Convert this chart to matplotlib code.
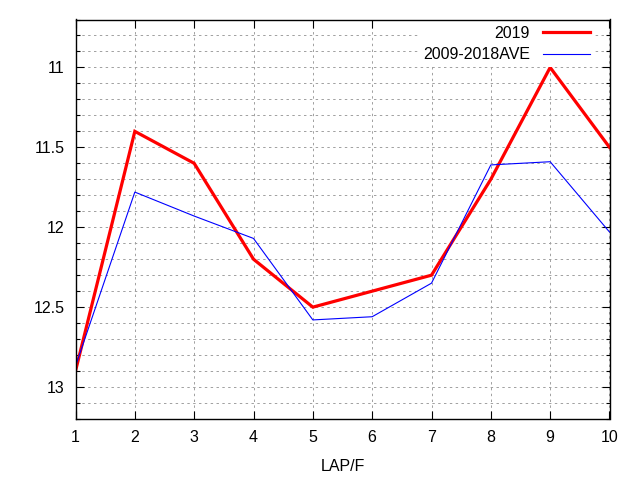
import matplotlib
matplotlib.use("Agg")
import matplotlib.pyplot as plt
from matplotlib.ticker import MultipleLocator

laps = [1, 2, 3, 4, 5, 6, 7, 8, 9, 10]
y2019 = [12.9, 11.4, 11.6, 12.2, 12.5, 12.4, 12.3, 11.7, 11.0, 11.5]
yave = [12.87, 11.78, 11.93, 12.07, 12.58, 12.56, 12.35, 11.61, 11.59, 12.03]
labels = ["2019", "2009-2018AVE"]

plt.rcParams['font.family'] = ['Liberation Sans', 'DejaVu Sans']
fs = 11.5

fig = plt.figure(figsize=(6.4, 4.8), dpi=100)
ax = fig.add_axes([75.5/640, (480-419)/480, 534/640, 399.5/480])

ax.plot(laps, y2019, color='#ff0000', lw=2.3, label=labels[0], solid_joinstyle='miter', zorder=3)
ax.plot(laps, yave, color='#0000ff', lw=0.8, label=labels[1], zorder=3)

ax.set_xlim(1, 10)
ax.set_ylim(13.2, 10.7)
ax.xaxis.set_major_locator(MultipleLocator(1))
ax.yaxis.set_major_locator(MultipleLocator(0.5))
ax.yaxis.set_minor_locator(MultipleLocator(0.1))
ax.yaxis.set_major_formatter(matplotlib.ticker.FuncFormatter(lambda v, p: f"{v:g}"))

ax.grid(True, which='both', axis='y', color='#a0a0a0', lw=0.7, linestyle=(0, (2.5, 3.5)))
ax.grid(True, which='major', axis='x', color='#a0a0a0', lw=0.7, linestyle=(0, (2.5, 3.5)))
ax.set_axisbelow(True)

ax.tick_params(which='both', direction='in', top=True, right=True, labelsize=fs, width=0.8, color='black')
ax.tick_params(which='major', length=6, pad=8)
ax.tick_params(which='minor', length=3)
for s in ax.spines.values():
    s.set_linewidth(1.0)
    s.set_zorder(10)

ax.set_xlabel("LAP/F", fontsize=fs, labelpad=10)

leg = ax.legend(loc='upper right', bbox_to_anchor=(1 - 10/534, 1 + 3/399.5),
                markerfirst=False, frameon=True, fontsize=fs,
                handlelength=2.95, handletextpad=0.8, labelspacing=0.4,
                borderaxespad=0.3, borderpad=0.3, fancybox=False)
leg.get_frame().set_facecolor('white')
leg.get_frame().set_edgecolor('none')
leg.get_frame().set_alpha(1)
leg.set_zorder(5)
for vp in leg._legend_handle_box.get_children():
    vp.align = 'right'

fig.savefig("out.png", dpi=100)
